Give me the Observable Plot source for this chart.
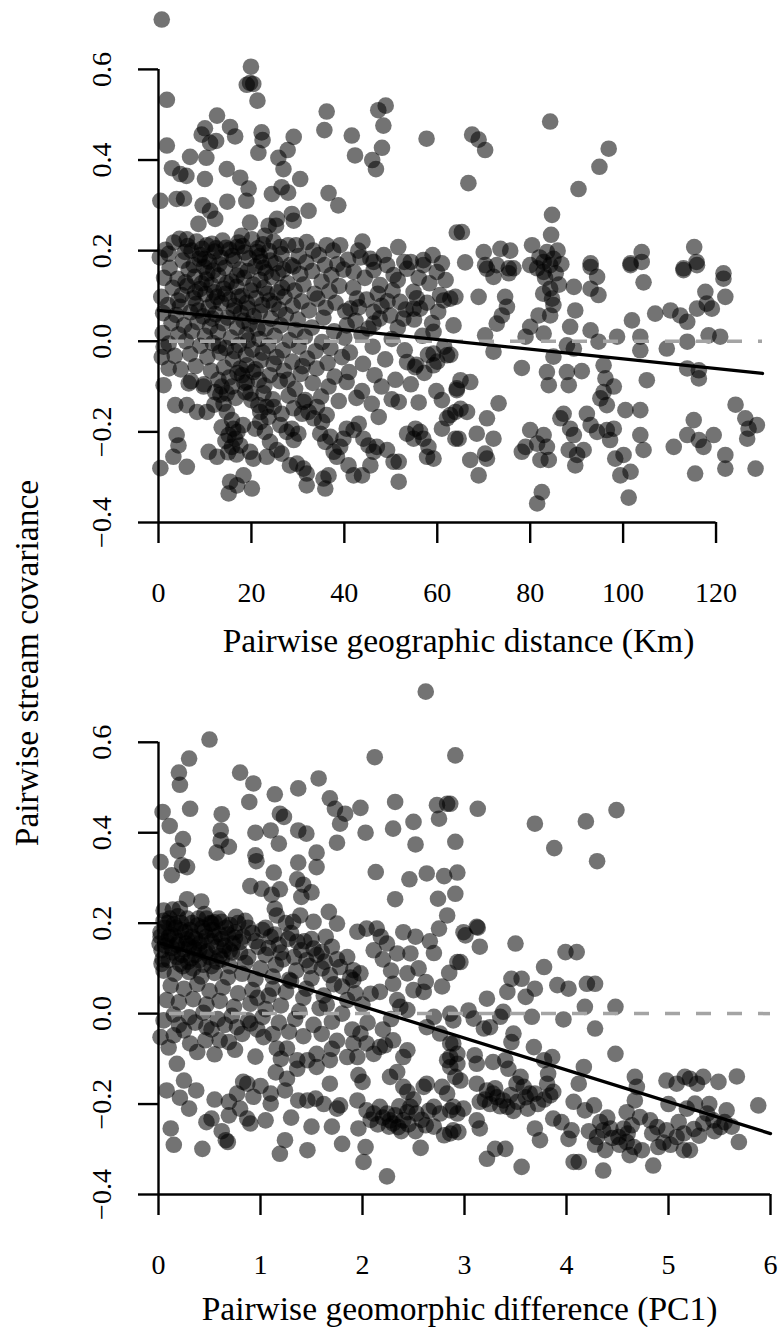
<!DOCTYPE html>
<html>
<head>
<meta charset="utf-8">
<script src="https://cdn.jsdelivr.net/npm/d3@7"></script>
<script src="https://cdn.jsdelivr.net/npm/@observablehq/plot@0.6"></script>
<style>
  html, body { margin: 0; padding: 0; background: #fff; }
  #figure { position: relative; width: 780px; height: 1327px; overflow: hidden; }
  #figure svg { display: block; }
  #ylabel {
    position: absolute; left: 27px; top: 663px;
    transform: translate(-50%, -50%) rotate(-90deg);
    font: 33.5px "Liberation Serif", "Times New Roman", serif;
    white-space: nowrap; color: #000;
  }
</style>
</head>
<body>
<div id="figure"><div id="ylabel">Pairwise stream covariance</div></div>
<script>
// Pairwise stream covariance against geographic distance (km): [distance, covariance]
const geoPoints = [
  [0.7,0.71],[19.9,0.606],[19.0,0.566],[20.4,0.568],[19.7,0.57],[21.3,0.531],[1.8,0.533],[12.6,0.498],[36.2,0.507],[47.3,0.51],
  [48.9,0.52],[48.4,0.476],[35.7,0.466],[41.6,0.454],[57.7,0.447],[10.0,0.47],[9.3,0.456],[11.1,0.438],[12.4,0.442],[15.4,0.473],
  [16.5,0.452],[22.2,0.461],[22.4,0.444],[21.5,0.416],[29.1,0.451],[27.8,0.422],[25.8,0.405],[26.9,0.38],[1.8,0.432],[42.3,0.41],
  [48.1,0.427],[46.0,0.40],[46.8,0.38],[6.8,0.407],[10.3,0.405],[2.9,0.382],[4.7,0.369],[6.0,0.365],[10.0,0.358],[14.7,0.38],
  [17.6,0.361],[19.4,0.337],[30.5,0.358],[26.5,0.34],[27.9,0.328],[24.4,0.325],[36.6,0.327],[38.7,0.30],[0.4,0.31],[3.9,0.314],
  [5.5,0.315],[9.5,0.30],[11.1,0.288],[12.2,0.27],[14.8,0.308],[18.9,0.31],[8.6,0.259],[32.3,0.288],[28.7,0.281],[29.1,0.266],
  [23.7,0.255],[25.3,0.255],[25.5,0.27],[19.7,0.262],[17.9,0.233],[4.5,0.226],[6.1,0.225],[22.9,0.233],[43.9,0.22],[51.6,0.208],
  [64.2,0.24],[2.2,0.193],[5.7,0.197],[10.4,0.212],[10.0,0.182],[16.9,0.208],[21.2,0.197],[26.2,0.208],[27.9,0.212],[29.6,0.212],
  [31.9,0.219],[33.3,0.2],[36.2,0.212],[37.6,0.2],[39.1,0.212],[45.6,0.182],[46.3,0.175],[49.2,0.168],[52.9,0.175],[54.3,0.175],
  [57,0.179],[61,0.172],
  [67.5,0.456],[68.9,0.445],[70.3,0.422],[84.3,0.485],[96.9,0.425],[94.9,0.385],[90.4,0.336],[66.7,0.349],[84.7,0.279],[84.5,0.235],
  [65.3,0.241],[80.4,0.212],[70,0.197],[73.6,0.204],[75.7,0.20],[83.6,0.197],[85,0.182],[82.9,0.175],[66,0.174],[70.3,0.168],
  [72.8,0.168],[75.4,0.161],[76.4,0.161],[80,0.168],[81.5,0.161],[93,0.172],[101.6,0.172],[104,0.175],[104,0.197],[115.3,0.208],
  [115.8,0.175],[113,0.161],[121.6,0.15],
  [70.7,0.16],[72.1,0.142],[75.4,0.15],[82.9,0.153],[84.3,0.168],[93.0,0.164],[94.4,0.142],[101.6,0.168],
  [113.0,0.157],[115.9,0.168],[104.4,0.13],[121.6,0.138],[62.8,0.094],[63.9,0.098],[68.9,0.098],[74.6,0.098],[75,0.076],
  [84.3,0.116],[84.7,0.094],[85,0.08],[84.3,0.057],[89.4,0.12],[93,0.116],[94.7,0.102],[81.8,0.057],[80,0.032],[82.9,0.017],
  [79,0.01],[73.9,0.057],[72.8,0.039],[70.3,0.013],[89.7,0.068],[88.6,0.032],[93,0.024],[94.7,-0.001],[98.7,0.01],[101.9,0.046],
  [103.7,0.01],[103.7,-0.02],[106.9,0.061],[110.2,0.068],[112.3,0.057],[113.8,0.043],[115.9,0.072],[118,0.083],[119.1,0.072],[117.7,0.109],
  [122,0.098],[113.8,-0.001],[109.4,-0.016],[118.4,0.013],[120.9,0.01],[72.1,-0.023],[62.8,-0.03],[87.9,-0.009],[89.4,-0.016],[85,-0.034],
  [83.6,-0.068],[87.9,-0.068],[84,-0.097],[88.3,-0.097],[78.2,-0.059],[91.1,-0.066],[95.8,-0.053],[96.2,-0.082],[98,-0.1],[105.1,-0.086],
  [113.8,-0.06],[116.3,-0.064],[116.3,-0.082],[65,-0.086],[67.1,-0.09],[64.2,-0.108],[73.2,-0.137],[95.1,-0.126],[95.8,-0.112],[96.5,-0.141],
  [87.2,-0.16],[86.5,-0.17],[88.6,-0.193],[89.4,-0.207],[92.2,-0.16],[93,-0.185],[94.4,-0.2],[96.5,-0.196],[98,-0.193],[97.2,-0.218],
  [100.5,-0.152],[103.7,-0.152],[65,-0.149],[66.4,-0.156],[62.8,-0.163],[70.7,-0.17],[124.2,-0.14],[115.2,-0.174],[126.3,-0.17],[127,-0.193],
  [128.8,-0.185],[126.7,-0.215],[64.6,-0.215],[68.5,-0.204],[72.1,-0.215],[80,-0.196],[82.9,-0.207],[81.5,-0.226],[83.6,-0.233],[78.2,-0.244],
  [79,-0.233],[103.7,-0.207],[104.4,-0.24],[88.3,-0.24],[90.1,-0.251],[91.5,-0.24],[110.9,-0.233],[113.8,-0.207],[116.3,-0.218],[117.3,-0.233],
  [119.5,-0.207],[67.1,-0.262],[70.3,-0.248],[70.7,-0.259],[82.2,-0.262],[84,-0.262],[89.7,-0.274],[98.3,-0.259],[100.1,-0.251],[99.4,-0.296],
  [101.6,-0.288],[68.9,-0.296],[115.5,-0.292],[122,-0.251],[122,-0.281],[128.5,-0.281],[82.5,-0.333],[81.5,-0.358],[101.2,-0.345],
  [82.0,0.185],[83.2,0.14],[85.5,0.15],[86.2,0.125],[82.8,0.105],[85.9,0.2],[86.7,0.17],
  [42,0.153],[46.3,0.157],[47.7,0.124],[50.6,0.146],[53.5,0.16],[57,0.168],[59.9,0.153],[60.6,0.102],[54.9,0.109],
  [52,0.087],[46.3,0.065],[42.7,0.094],[41.3,0.072],[40.5,0.035],[46.3,0.039],[49.9,0.057],[52.7,0.05],[54.9,0.072],[59.2,0.021],[56.3,0.072],
  [43.0,0.2],[48.5,0.19],[51.5,0.135],[56.0,0.14],[61.8,0.135],[59.0,0.19],
  [8.2,0.22],[11.5,0.215],[13.8,0.222],[17.2,0.218],[20.1,0.225],[22.5,0.214],[24.8,0.22],[3.3,0.218],[14.5,0.206],
  [7.1,0.2],[9.4,0.204],[12.1,0.198],[15.3,0.202],[18.6,0.196],[21.4,0.205],[23.8,0.199],[26.5,0.192],[30.2,0.188],[34.5,0.19],[1.5,0.202],[40.8,0.18],[43.5,0.185],
  [5.2,0.178],[8.8,0.182],[10.9,0.176],[13.4,0.185],[16.2,0.179],[19.5,0.183],[22.1,0.175],[25.2,0.172],[28.4,0.168],[31.8,0.174],[35.8,0.168],[38.5,0.17],[0.3,0.185],
  [2.4,0.162],[6.5,0.158],[9.8,0.164],[11.8,0.156],[14.3,0.162],[17.5,0.158],[20.8,0.165],[23.1,0.152],[26.9,0.158],[30.5,0.148],[33.1,0.155],[37.2,0.146],[39.8,0.158],[44.4,0.14],
  [4.1,0.138],[7.8,0.142],[10.3,0.136],[12.9,0.145],[15.7,0.132],[18.4,0.14],[21.9,0.135],[24.4,0.142],[27.8,0.128],[31.2,0.125],[35.1,0.132],[38.9,0.122],[1.2,0.14],
  [3.1,0.118],[6.2,0.122],[8.9,0.115],[11.4,0.124],[14.0,0.116],[16.8,0.12],[19.9,0.112],[22.7,0.118],[25.6,0.108],[29.3,0.112],[33.6,0.105],[36.8,0.11],[41.9,0.118],[47.2,0.105],[50.4,0.112],[55.6,0.095],[58.3,0.128],
  [0.6,0.098],[5.0,0.102],[7.5,0.095],[10.1,0.104],[12.6,0.098],[15.2,0.092],[18.0,0.1],[21.0,0.095],[23.9,0.09],[27.1,0.098],[30.8,0.088],[34.2,0.094],[38.1,0.085],[44.8,0.092],[49.3,0.088],[57.8,0.085],[61.4,0.09],
  [2.0,0.08],[4.6,0.076],[8.1,0.082],[10.8,0.075],[13.5,0.084],[16.4,0.078],[19.2,0.072],[22.3,0.08],[26.0,0.07],[28.9,0.078],[32.4,0.068],[36.0,0.074],[40.2,0.066],[43.1,0.075],[48.0,0.078],[53.2,0.07],[60.2,0.065],
  [1.0,0.062],[3.8,0.058],[6.9,0.064],[9.6,0.055],[12.2,0.06],[14.9,0.052],[17.7,0.062],[20.5,0.055],[24.2,0.05],[27.4,0.058],[30.0,0.048],[35.5,0.052],[42.4,0.045],[47.6,0.05],[55.0,0.048],[58.9,0.04],
  [2.8,0.04],[5.5,0.035],[8.4,0.042],[11.1,0.032],[13.9,0.04],[16.9,0.03],[19.6,0.038],[23.0,0.028],[26.3,0.035],[29.5,0.025],[33.0,0.03],[37.8,0.022],[45.2,0.028],[51.5,0.03],[63.5,0.035],
  [0.9,0.018],[4.3,0.015],[7.2,0.022],[10.0,0.012],[12.8,0.02],[15.6,0.008],[18.9,0.015],[21.7,0.005],[25.0,0.012],[28.2,0.002],[31.5,0.01],[35.2,-0.002],[40.0,0.008],[43.7,0.015],[50.2,0.005],[56.8,0.012],
  [2.2,-0.005],[5.9,0.0],[9.0,-0.01],[11.7,-0.004],[14.5,-0.015],[17.3,-0.008],[20.2,-0.018],[23.6,-0.01],[26.8,-0.02],[30.2,-0.012],[33.8,-0.022],[37.0,-0.015],[41.2,-0.025],[46.1,-0.012],[53.0,-0.02],[58.0,-0.03],[61.5,-0.012],
  [3.5,-0.032],[6.8,-0.028],[10.5,-0.035],[13.2,-0.025],[16.0,-0.04],[18.8,-0.03],[22.0,-0.042],[25.4,-0.035],[28.8,-0.045],[32.0,-0.038],[36.4,-0.048],[39.5,-0.035],[44.0,-0.05],[48.8,-0.04],[55.5,-0.052],[60.0,-0.045],
  [4.8,-0.062],[8.0,-0.055],[11.3,-0.065],[14.1,-0.058],[17.0,-0.07],[20.9,-0.062],[24.0,-0.075],[27.0,-0.065],[30.6,-0.072],[34.0,-0.06],[37.9,-0.078],[41.0,-0.068],[46.5,-0.075],[51.0,-0.085],[57.2,-0.07],
  [7.0,-0.088],[9.8,-0.095],[12.9,-0.085],[15.8,-0.1],[18.5,-0.092],[22.8,-0.098],[26.1,-0.088],[29.4,-0.105],[33.2,-0.092],[36.6,-0.1],[40.5,-0.09],[43.8,-0.11],[48.0,-0.1],[54.3,-0.095],[59.8,-0.11],
  [13.3,-0.118],[16.6,-0.125],[19.8,-0.115],[24.6,-0.128],[28.0,-0.12],[31.6,-0.13],[35.0,-0.122],[38.8,-0.132],[42.6,-0.125],[45.9,-0.138],[50.2,-0.128],[56.0,-0.135],[61.0,-0.13],
  [6.3,0.21],[9.0,0.19],[12.4,0.205],[15.9,0.188],[18.1,0.21],[21.8,0.188],[24.1,0.178],[7.6,0.168],[10.5,0.15],[13.1,0.17],
  [16.9,0.145],[19.2,0.155],[22.6,0.162],[25.8,0.15],[29.0,0.165],[5.8,0.13],[9.3,0.128],[12.0,0.108],[14.7,0.128],[17.2,0.098],
  [20.4,0.125],[23.4,0.105],[26.6,0.118],[4.2,0.09],[7.9,0.108],[11.8,0.088],[14.4,0.105],[16.2,0.068],[19.0,0.085],[21.8,0.065],
  [24.8,0.082],[8.6,0.068],[11.6,0.05],[18.3,0.045],[21.3,0.028],[13.0,-0.01],[16.4,-0.022],[19.3,0.002],[22.4,-0.025],[24.8,-0.05],
  [18.0,-0.075],[21.6,-0.085],[15.2,-0.08],[27.8,-0.085],[31.0,-0.055],[20.0,-0.13],[23.2,-0.145],[26.5,-0.16],[12.0,-0.14],
  [1.1,-0.012],[0.7,-0.035],[2.2,-0.06],[1.1,-0.097],[6.5,-0.093],[3.6,-0.141],[6.1,-0.141],[8.3,-0.156],[10.4,-0.156],[9.7,-0.1],
  [12.2,-0.112],[13.6,-0.1],[14.7,-0.115],[17.6,-0.06],[19,-0.053],[20.4,-0.068],[19,-0.09],[18.7,-0.112],[22.6,-0.115],[21.5,-0.141],
  [21.9,-0.156],[23.7,-0.167],[24.8,-0.145],
  [14.0,-0.138],[14.7,-0.156],[15.8,-0.174],[16.1,-0.193],[15.1,-0.207],[16.5,-0.215],[17.6,-0.23],[15.8,-0.233],[14.4,-0.22],[17.0,-0.2],
  [18.2,-0.185],[13.6,-0.19],[15.0,-0.245],[16.8,-0.25],
  [3.9,-0.207],[4.3,-0.23],[3.2,-0.255],[0.4,-0.28],[6.1,-0.277],[10.8,-0.244],[12.6,-0.255],[15.4,-0.31],[16.9,-0.318],[18.3,-0.296],
  [20.1,-0.325],[15.1,-0.336],[19.7,-0.244],[20.4,-0.259],[23.3,-0.255],[25.5,-0.24],[26.5,-0.248],[24,-0.222],[20.8,-0.193],[21.9,-0.178],
  [22.9,-0.2],[26.2,-0.185],[27.6,-0.2],[28.7,-0.193],[29.1,-0.218],[30.1,-0.204],[28.3,-0.274],[29.8,-0.27],[31.2,-0.281],[31.9,-0.292],
  [31.9,-0.318],[29.1,-0.148],[30.9,-0.16],[31.2,-0.134],[32.3,-0.156],[34.1,-0.145],[33.4,-0.17],[35.2,-0.178],[36.2,-0.163],[34.8,-0.204],
  [35.9,-0.222],[37,-0.211],[37.7,-0.244],[38.4,-0.255],[39.1,-0.233],[39.8,-0.215],[40.5,-0.193],[42,-0.196],[43.1,-0.182],[44.1,-0.215],
  [35.5,-0.303],[36.6,-0.296],[35.9,-0.325],[40.9,-0.274],[42,-0.296],[43.8,-0.296],[45.6,-0.274],[45.2,-0.23],[46.3,-0.244],[47,-0.233],
  [49.2,-0.24],[50.6,-0.266],[51.7,-0.266],[47.4,-0.167],[51.7,-0.134],[51.7,-0.31],[53.5,-0.204],[55.3,-0.193],[56.3,-0.2],[57,-0.215],
  [54.9,-0.215],[57.8,-0.255],[59.2,-0.259],[58.1,-0.233],[61,-0.193],[62.1,-0.17],[63.9,-0.156],[63.9,-0.215],
  [53.5,-0.046],[55.2,-0.057],[59.2,-0.053],[59.2,-0.027],[62.1,-0.031],[64.2,-0.104]
];

// Pairwise stream covariance against geomorphic difference (PC1): [difference, covariance]
const pcPoints = [
  [2.62,0.712],[0.50,0.606],[0.30,0.564],[0.20,0.533],[0.21,0.506],[0.80,0.533],[0.93,0.509],[1.57,0.52],[2.12,0.567],[2.91,0.571],
  [1.37,0.498],[1.14,0.485],[0.89,0.468],[0.04,0.446],[0.31,0.453],[0.62,0.441],[0.11,0.415],[1.68,0.476],[1.73,0.453],[1.83,0.442],
  [1.78,0.42],[1.19,0.442],[1.23,0.435],[1.98,0.455],[2.32,0.468],[2.73,0.461],[2.83,0.464],[2.75,0.431],[2.5,0.424],[2.3,0.409],
  [2.03,0.40],[2.91,0.38],[0.61,0.405],[0.61,0.383],[0.69,0.369],[0.57,0.356],[0.24,0.386],[0.19,0.36],[0.02,0.335],[0.28,0.324],
  [0.13,0.306],[0.23,0.328],[0.95,0.40],[1.1,0.405],[1.18,0.376],[1.37,0.405],[1.45,0.398],[0.95,0.35],[0.96,0.337],[1.55,0.356],
  [1.55,0.324],[1.37,0.334],[1.75,0.378],[2.52,0.374],[1.13,0.312],[0.9,0.282],[1.01,0.276],[1.19,0.275],[1.11,0.263],[1.36,0.297],
  [1.42,0.285],[1.5,0.268],[1.4,0.258],[2.13,0.313],[2.46,0.297],[2.63,0.31],[2.8,0.304],[2.93,0.312],[2.32,0.253],[2.74,0.254],
  [2.91,0.265],[2.83,0.217],[0.28,0.253],[0.42,0.248],[0.21,0.232],[0.05,0.228],[1.14,0.232],[1.16,0.217],[1.67,0.225],[1.75,0.199],
  [0.76,0.214],[0.62,0.203],[0.47,0.21],[0.52,0.199],[1.39,0.217],[1.52,0.203],[1.32,0.203],[2.04,0.188],[2.14,0.188],[2.4,0.18],[2.75,0.188],
  [2.86,0.464],[3.13,0.453],[3.69,0.42],[4.19,0.425],[4.49,0.45],[3.88,0.366],[4.3,0.337],[3.13,0.19],[2.99,0.18],
  [1.95,0.181],[2.7,0.134],[2.93,0.114],[1.64,0.17],[1.52,0.144],[1.6,0.136],[1.36,0.159],
  [1.85,0.125],[1.78,0.103],[1.91,0.096],[1.98,0.089],[1.91,0.074],[2.11,0.14],[2.24,0.155],[2.34,0.133],[2.44,0.089],[2.47,0.133],
  [2.5,0.052],[2.6,0.048],[2.08,0.044],[2.17,0.048],[2.3,0.066],[2.34,0.03],[2.37,0.015],[2.44,0.008],[2.7,-0.007],[2.86,0.0],
  [2.89,-0.015],[2.63,-0.03],[2.76,-0.044],[2.86,-0.066],[2.17,-0.074],[2.22,-0.07],[2.3,-0.059],[2.44,-0.081],[2.4,-0.096],[2.86,-0.118],
  [2.83,-0.103],[2.93,-0.089],[2.91,-0.14],[1.98,-0.044],[1.91,-0.066],[2.04,-0.066],[2.11,-0.089],[1.85,-0.096],[1.95,-0.096],[1.68,-0.103],
  [1.55,-0.118],[1.16,-0.077],[1.26,-0.077],[1.36,-0.103],[1.36,-0.122],[1.46,-0.103],[1.55,-0.089],[1.26,-0.144],[1.24,-0.17],[1.37,-0.192],
  [1.46,-0.192],[1.54,-0.188],[1.68,-0.155],[1.75,-0.21],[1.78,-0.203],[1.96,-0.136],[2.0,-0.151],[1.95,-0.192],[2.04,-0.214],[2.11,-0.221],
  [2.17,-0.206],[2.24,-0.221],[2.27,-0.236],[2.3,-0.243],[2.35,-0.251],[2.4,-0.236],[2.44,-0.218],[2.47,-0.206],[2.53,-0.221],[2.6,-0.162],
  [2.63,-0.155],[2.62,-0.247],[2.7,-0.206],[2.76,-0.221],[2.78,-0.162],[2.83,-0.177],[2.89,-0.206],[2.93,-0.221],[2.89,-0.258],[2.8,-0.269],
  [2.27,-0.14],[2.34,-0.129],[2.4,-0.162],[2.44,-0.173],[1.96,-0.254],[2.03,-0.295],[2.01,-0.328],[1.8,-0.288],[2.24,-0.36],[2.57,-0.297],
  [0.18,-0.111],[0.25,-0.148],[0.21,-0.186],[0.37,-0.17],[0.12,-0.254],[0.43,-0.299],[0.66,-0.28],[0.68,-0.284],[0.47,-0.24],[0.52,-0.232],
  [0.69,-0.225],[0.69,-0.195],[0.77,-0.177],[0.83,-0.151],[0.87,-0.155],[0.93,-0.184],[1.1,-0.177],[1.1,-0.199],[1.05,-0.236],[0.87,-0.232],
  [0.9,-0.243],[1.24,-0.28],[1.19,-0.31],[1.46,-0.302],
  [0.02,-0.052],[0.15,-0.048],[0.31,-0.066],[0.46,-0.059],[0.6,-0.059],[0.69,-0.063],[0.25,-0.037],[0.47,-0.03],[0.77,-0.03],[0.9,-0.022],[1.03,-0.052],
  [0.05,0.205],[0.15,0.198],[0.28,0.21],[0.38,0.195],[0.55,0.202],[0.7,0.196],[0.85,0.205],[1.05,0.19],[1.25,0.2],
  [0.02,0.18],[0.12,0.175],[0.22,0.185],[0.33,0.17],[0.45,0.182],[0.6,0.175],[0.75,0.168],[0.92,0.178],[1.1,0.17],[1.3,0.178],[1.5,0.165],
  [0.08,0.16],[0.18,0.152],[0.28,0.165],[0.4,0.155],[0.52,0.16],[0.65,0.15],[0.8,0.158],[0.98,0.148],[1.18,0.152],[1.4,0.14],[1.7,0.148],
  [0.03,0.14],[0.14,0.135],[0.25,0.142],[0.36,0.13],[0.48,0.138],[0.6,0.128],[0.72,0.135],[0.88,0.125],[1.05,0.13],[1.22,0.12],[1.45,0.118],
  [0.1,0.118],[0.21,0.11],[0.32,0.122],[0.44,0.108],[0.57,0.115],[0.7,0.105],[0.85,0.112],[1.0,0.1],[1.15,0.108],[1.35,0.095],[1.6,0.1],
  [0.05,0.095],[0.16,0.088],[0.3,0.092],[0.42,0.082],[0.55,0.09],[0.68,0.08],[0.82,0.088],[0.95,0.076],[1.12,0.082],[1.3,0.072],[1.5,0.078],[1.72,0.065],
  [0.12,0.062],[0.25,0.055],[0.38,0.065],[0.5,0.05],[0.63,0.058],[0.78,0.045],[0.92,0.052],[1.08,0.04],[1.25,0.048],[1.42,0.035],[1.62,0.04],[1.85,0.03],
  [0.08,0.03],[0.2,0.025],[0.34,0.032],[0.47,0.02],[0.6,0.028],[0.74,0.015],[0.9,0.022],[1.05,0.01],[1.2,0.018],[1.38,0.005],[1.58,0.012],[1.8,0.0],
  [0.15,-0.002],[0.3,-0.008],[0.44,0.002],[0.58,-0.012],[0.72,-0.005],[0.88,-0.015],[1.02,-0.008],[1.18,-0.02],[1.34,-0.012],[1.52,-0.025],[1.7,-0.018],
  [0.07,0.15],[0.1,0.17],[0.13,0.145],[0.17,0.19],[0.2,0.16],[0.23,0.13],[0.26,0.18],[0.3,0.15],[0.33,0.2],[0.36,0.165],
  [0.4,0.14],[0.43,0.19],[0.47,0.17],[0.5,0.125],[0.53,0.185],[0.57,0.148],[0.62,0.165],[0.66,0.19],[0.7,0.14],[0.75,0.18],
  [0.04,0.12],[0.09,0.2],[0.19,0.215],[0.24,0.105],[0.34,0.1],[0.45,0.22],[0.14,0.23],[0.02,0.17],
  [0.06,0.19],[0.11,0.21],[0.16,0.17],[0.22,0.2],[0.27,0.155],[0.31,0.185],[0.35,0.145],[0.39,0.21],[0.42,0.16],[0.46,0.135],
  [0.51,0.2],[0.55,0.17],[0.59,0.21],[0.64,0.14],[0.68,0.175],[0.73,0.155],[0.78,0.2],[0.83,0.17],[0.88,0.19],[0.01,0.155],
  [0.03,0.11],[0.18,0.125],[0.29,0.115],[0.4,0.118],[0.52,0.105],[0.62,0.12],[0.8,0.135],
  [0.95,0.16],[1.02,0.185],[1.08,0.145],[1.14,0.175],[1.2,0.135],[1.27,0.165],[1.33,0.125],[1.43,0.16],[1.48,0.105],[1.55,0.13],
  [1.63,0.115],[1.68,0.085],[1.75,0.12],[1.8,0.06],[1.88,0.08],[1.93,0.045],[2.0,0.02],[1.65,0.02],[1.45,0.055],[1.28,0.075],
  [1.12,0.055],[0.97,0.035],
  [0.05,-0.015],[0.2,-0.025],[0.36,-0.02],[0.52,-0.035],[0.65,-0.025],[0.82,-0.045],[0.97,-0.035],[1.12,-0.045],[1.28,-0.04],[1.42,-0.05],
  [1.6,-0.045],[1.75,-0.06],[1.9,-0.035],[0.1,-0.075],[0.38,-0.085],[0.55,-0.09],[0.75,-0.08],[0.95,-0.095],[1.2,-0.1],[1.7,-0.078],
  [2.05,-0.02],[2.2,-0.035],[2.28,-0.012],
  [2.2,-0.23],[2.26,-0.25],[2.32,-0.225],[2.38,-0.26],[2.45,-0.245],[2.52,-0.26],[2.58,-0.235],[2.15,-0.245],[2.08,-0.235],[2.36,-0.205],
  [2.5,-0.19],[2.65,-0.215],[2.7,-0.25],
  [3.2,-0.19],[3.25,-0.2],[3.32,-0.185],[3.35,-0.205],[3.45,-0.18],[3.52,-0.195],[3.6,-0.185],[3.72,-0.2],[3.78,-0.19],[3.3,-0.165],
  [3.48,-0.215],[3.62,-0.21],
  [4.22,-0.26],[4.28,-0.29],[4.33,-0.24],[4.45,-0.275],[4.52,-0.29],[4.4,-0.23],[4.6,-0.265],
  [4.95,-0.285],[5.02,-0.29],[5.1,-0.24],[5.25,-0.255],[5.3,-0.27],[5.45,-0.26],[5.55,-0.24],[5.62,-0.25],[5.18,-0.21],[5.0,-0.2],[5.4,-0.2],
  [2.2,0.12],[2.28,0.095],[2.55,0.1],[2.62,0.07],[2.78,0.06],[2.85,0.09],[2.66,0.16],[2.52,0.17],[2.18,0.17],
  [0.3,-0.21],[0.55,-0.19],[0.62,-0.26],[0.8,-0.21],[1.0,-0.16],[1.15,-0.13],[1.3,-0.23],[1.5,-0.25],[1.62,-0.2],[1.7,-0.25],
  [0.08,-0.17],[0.15,-0.29],
  [3.01,0.173],[3.12,0.192],[3.15,0.148],[2.96,0.114],[3.5,0.155],[3.99,0.136],[4.1,0.136],[3.78,0.103],[3.46,0.077],[3.56,0.077],
  [3.42,0.048],[3.6,0.037],[3.69,0.055],[3.91,0.063],[4.02,0.055],[4.2,0.066],[4.28,0.066],[3.22,0.033],[4.18,0.015],[4.48,0.015],
  [3.04,0.007],[3.09,-0.011],[3.19,-0.033],[3.25,-0.03],[3.38,0.004],[3.35,-0.007],[3.66,-0.007],[3.97,-0.013],[4.28,-0.033],
  [4.48,-0.089],[3.48,-0.044],[3.46,-0.063],[3.68,-0.074],[2.89,-0.066],[3.86,-0.096],[3.78,-0.103],[3.82,-0.133],[3.81,-0.155],[4.17,-0.118],
  [4.12,-0.155],[4.07,-0.195],[4.18,-0.214],[4.27,-0.203],[2.86,-0.096],[2.93,-0.111],[2.96,-0.148],[3.1,-0.092],[3.12,-0.111],[3.28,-0.107],
  [3.4,-0.103],[3.43,-0.122],[3.12,-0.155],[2.86,-0.214],[2.99,-0.21],[3.15,-0.195],[3.22,-0.17],[3.28,-0.177],[3.38,-0.192],[3.42,-0.206],
  [3.51,-0.155],[3.55,-0.14],[3.58,-0.162],[3.64,-0.177],[3.69,-0.177],[3.84,-0.181],[3.87,-0.173],[3.12,-0.236],[3.15,-0.254],[2.94,-0.262],
  [2.86,-0.265],[3.87,-0.232],[3.95,-0.24],[3.69,-0.254],[3.74,-0.28],[4.05,-0.258],[4.02,-0.277],[3.22,-0.321],[3.3,-0.299],[3.4,-0.299],
  [3.56,-0.339],[4.07,-0.328],[4.12,-0.328],[4.3,-0.273],[4.36,-0.258],[4.43,-0.254],[4.56,-0.254],[4.64,-0.247],[4.51,-0.273],[4.59,-0.284],
  [4.66,-0.295],[4.74,-0.302],[4.38,-0.302],[4.36,-0.347],[4.62,-0.313],[4.85,-0.336],[4.67,-0.14],[4.69,-0.162],[4.67,-0.192],[4.59,-0.218],
  [4.72,-0.229],[4.82,-0.236],[4.89,-0.251],[4.84,-0.265],[4.9,-0.295],[4.98,-0.258],[5.08,-0.273],[5.15,-0.265],[5.21,-0.302],[5.15,-0.302],
  [4.98,-0.148],[5.08,-0.155],[5.16,-0.14],[5.21,-0.144],[5.28,-0.155],[5.34,-0.14],[5.49,-0.151],[5.67,-0.139],[5.26,-0.199],[5.38,-0.221],
  [5.44,-0.236],[5.57,-0.214],[5.51,-0.251],[5.34,-0.243],[5.88,-0.203],[5.69,-0.284]
];

// Fitted least-squares lines shown in each panel
const geoFit = {intercept: 0.068, slope: -0.00107};
const pcFit = {intercept: 0.157, slope: -0.0704};

// Axis ticks
const covTicks = [-0.4, -0.2, 0.0, 0.2, 0.4, 0.6];
const kmTicks = [0, 20, 40, 60, 80, 100, 120];
const pcTicks = [0, 1, 2, 3, 4, 5, 6];

const serif = '"Liberation Serif", "Times New Roman", serif';
const fmtCov = d => (d < 0 ? "\u2212" : "") + Math.abs(d).toFixed(1);

function panel({points, xDomain, xTicks, xLabel, fit, height, marginTop, marginBottom, marginRight, labelDx, labelDy}) {
  const fitLine = xDomain.map(x => ({x, y: fit.intercept + fit.slope * x}));
  const axisWidth = 2.4;
  return Plot.plot({
    width: 780,
    height,
    marginLeft: 158,
    marginRight,
    marginTop,
    marginBottom,
    style: {fontFamily: serif, fontSize: "28px", color: "black", background: "white", overflow: "visible"},
    x: {domain: xDomain},
    y: {domain: [-0.4, 0.73]},
    marks: [
      Plot.dot(points, {x: d => d[0], y: d => d[1], r: 8.3, fill: "black", fillOpacity: 0.55}),
      Plot.ruleY([0], {stroke: "#a4a4a4", strokeWidth: 3.5, strokeDasharray: "15,16", strokeDashoffset: 20}),
      Plot.line(fitLine, {x: "x", y: "y", stroke: "black", strokeWidth: 3.3}),
      Plot.ruleX([xDomain[0]], {y1: covTicks[0], y2: covTicks[covTicks.length - 1], strokeWidth: axisWidth}),
      Plot.ruleY([covTicks[0]], {x1: xTicks[0], x2: xTicks[xTicks.length - 1], strokeWidth: axisWidth}),
      Plot.axisY({ticks: covTicks, tickSize: 20, tickFormat: () => "", strokeWidth: axisWidth, label: null}),
      Plot.text(covTicks, {x: xDomain[0], y: d => d, text: fmtCov, rotate: -90, dx: -56, fontSize: 28}),
      Plot.axisX({ticks: xTicks, tickSize: 21, tickPadding: 39, tickFormat: d => String(d), strokeWidth: axisWidth, fontSize: 28, label: null}),
      Plot.text([xLabel], {frameAnchor: "bottom", dy: labelDy, dx: labelDx, fontSize: 33.5})
    ]
  });
}

const figure = document.getElementById("figure");

figure.append(panel({
  points: geoPoints,
  xDomain: [0, 130],
  xTicks: kmTicks,
  xLabel: "Pairwise geographic distance (Km)",
  fit: geoFit,
  height: 650, marginTop: 10, marginBottom: 128, marginRight: 18, labelDx: -2, labelDy: 129
}));

figure.append(panel({
  points: pcPoints,
  xDomain: [0, 6],
  xTicks: pcTicks,
  xLabel: "Pairwise geomorphic difference (PC1)",
  fit: pcFit,
  height: 677, marginTop: 33, marginBottom: 133, marginRight: 10, labelDx: -5, labelDy: 125
}));
</script>
</body>
</html>
